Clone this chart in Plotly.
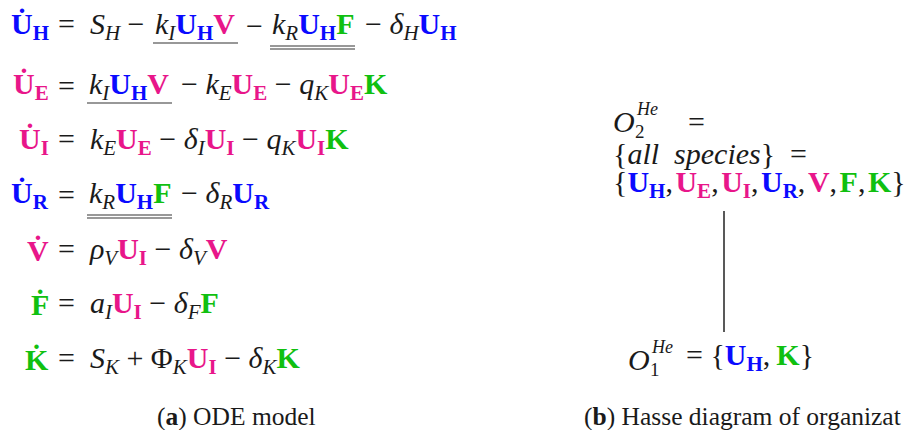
import plotly.graph_objects as go

BLUE = "#0a0aff"
PINK = "#e8168a"
GREEN = "#10c010"
INK = "#1a1a1a"
FONT = "Liberation Serif, Times New Roman, serif"
FS = 30
FS_CAP = 25.5
SP = "\u2005"   # quarter-em space around binary operators
EQSP = "\u2002"  # en space after '='

# species: symbol, subscript, colour
SPECIES = {
    "UH": ("U", "H", BLUE),
    "UE": ("U", "E", PINK),
    "UI": ("U", "I", PINK),
    "UR": ("U", "R", BLUE),
    "V": ("V", "", PINK),
    "F": ("F", "", GREEN),
    "K": ("K", "", GREEN),
}

# left-hand sides of the ODE system
LHS = ["UH", "UE", "UI", "UR", "V", "F", "K"]

# right-hand sides, split into groups: (tokens, underline count)
RHS = [
    [(["=", "p:S_H", "−"], 0), (["p:k_I", "UH", "V"], 1), (["−"], 0),
     (["p:k_R", "UH", "F"], 2), (["−", "p:δ_H", "UH"], 0)],
    [(["="], 0), (["p:k_I", "UH", "V"], 1),
     (["−", "p:k_E", "UE", "−", "p:q_K", "UE", "K"], 0)],
    [(["=", "p:k_E", "UE", "−", "p:δ_I", "UI", "−", "p:q_K", "UI", "K"], 0)],
    [(["="], 0), (["p:k_R", "UH", "F"], 2), (["−", "p:δ_R", "UR"], 0)],
    [(["=", "p:ρ_V", "UI", "−", "p:δ_V", "V"], 0)],
    [(["=", "p:a_I", "UI", "−", "p:δ_F", "F"], 0)],
    [(["=", "p:S_K", "+", "p:Φ_K", "UI", "−", "p:δ_K", "K"], 0)],
]

ALL_SPECIES = ["UH", "UE", "UI", "UR", "V", "F", "K"]
ORG1_SPECIES = ["UH", "K"]
CAPTION_A = ("a", "ODE model")
CAPTION_B = ("b", "Hasse diagram of organizat")


def species(key, dot=False):
    sym, sub, col = SPECIES[key]
    s = sym + ("\u0307" if dot else "")
    if sub:
        s += f"<sub>{sub}</sub>"
    return f"<span style='color:{col}'><b>{s}</b></span>"


def param(tok):
    sym, sub = tok[2:].split("_")
    if sym == "Φ":
        return f"{sym}<sub><i>{sub}</i></sub>"
    return f"<i>{sym}</i><sub><i>{sub}</i></sub>"


def render(tokens):
    out = []
    n = len(tokens)
    for i, t in enumerate(tokens):
        if t in SPECIES:
            out.append(species(t))
        elif t.startswith("p:"):
            out.append(param(t))
        elif t == "=":
            out.append("=" + (EQSP if i < n - 1 else ""))
        else:
            pre = SP if i > 0 else ""
            post = SP if i < n - 1 else ""
            out.append(f"{pre}{t}{post}")
    return "".join(out)


# ---------- layout (reference pixel positions) ----------
ROW_BASE = [37, 97, 152, 206, 262, 316, 371]
LHS_RIGHT = 50
GROUP_X = [
    [57, 154, 245, 271, 364],
    [57, 88, 180],
    [57],
    [57, 88, 180],
    [57],
    [57],
    [57],
]
UL_SPAN = {(0, 1): (153, 238), (0, 3): (270, 355), (1, 1): (87, 172), (3, 1): (87, 172)}

fig = go.Figure()
fig.add_trace(go.Scatter(x=[0, 908], y=[0, 430], mode="markers",
                         marker=dict(opacity=0), hoverinfo="skip", showlegend=False))

ann = []
shapes = []


def text(t, x, base, size=FS, anchor="left", color=INK, k=0.37):
    ann.append(dict(text=t, x=x, y=base - k * size, xref="x", yref="y",
                    xanchor=anchor, yanchor="middle", showarrow=False,
                    font=dict(family=FONT, size=size, color=color),
                    borderpad=0))


for r, key in enumerate(LHS):
    base = ROW_BASE[r]
    text(species(key, dot=True), LHS_RIGHT, base, anchor="right")
    for g, (toks, ul) in enumerate(RHS[r]):
        text(render(toks), GROUP_X[r][g], base)
        if ul:
            x0, x1 = UL_SPAN[(r, g)]
            offs = [6] if ul == 1 else [9, 12]
            for o in offs:
                shapes.append(dict(type="line", xref="x", yref="y", x0=x0, x1=x1,
                                   y0=base + o, y1=base + o,
                                   line=dict(color="#333333", width=1.2)))

# captions
text(f"(<b>{CAPTION_A[0]}</b>) {CAPTION_A[1]}", 156, 424, size=FS_CAP, k=0.30)
text(f"(<b>{CAPTION_B[0]}</b>) {CAPTION_B[1]}", 583, 424, size=FS_CAP, k=0.30)


# Hasse diagram
def org_label(x, base, idx):
    text("<i>O</i>", x, base, k=0.30)
    ann.append(dict(text="<i>He</i>", x=x + 23, y=base - 21, xref="x", yref="y",
                    xanchor="left", yanchor="middle", showarrow=False,
                    font=dict(family=FONT, size=18, color=INK), borderpad=0))
    ann.append(dict(text=str(idx), x=x + 22, y=base + 1, xref="x", yref="y",
                    xanchor="left", yanchor="middle", showarrow=False,
                    font=dict(family=FONT, size=19, color=INK), borderpad=0))


org_label(612, 130, 2)
text("=", 687, 130, k=0.30)
text("{<i>all</i>\u2002<i>species</i>}\u2002=", 612, 162, k=0.30)
text("{" + ",\u200a".join(species(k) for k in ALL_SPECIES) + "}", 612, 195)
shapes.append(dict(type="line", xref="x", yref="y", x0=724, x1=724, y0=211, y1=332,
                   line=dict(color="#222222", width=1.5)))
org_label(627, 368, 1)
text("=\u2005{" + ",\u2009".join(species(k) for k in ORG1_SPECIES) + "}", 685, 368)

fig.update_layout(
    width=908, height=430, margin=dict(l=0, r=0, t=0, b=0),
    paper_bgcolor="white", plot_bgcolor="white",
    xaxis=dict(range=[0, 908], visible=False, fixedrange=True),
    yaxis=dict(range=[430, 0], visible=False, fixedrange=True),
    annotations=ann, shapes=shapes, showlegend=False,
)
fig.write_html("out.html", config={"displayModeBar": False},
               post_script="document.body.style.margin='0';")
